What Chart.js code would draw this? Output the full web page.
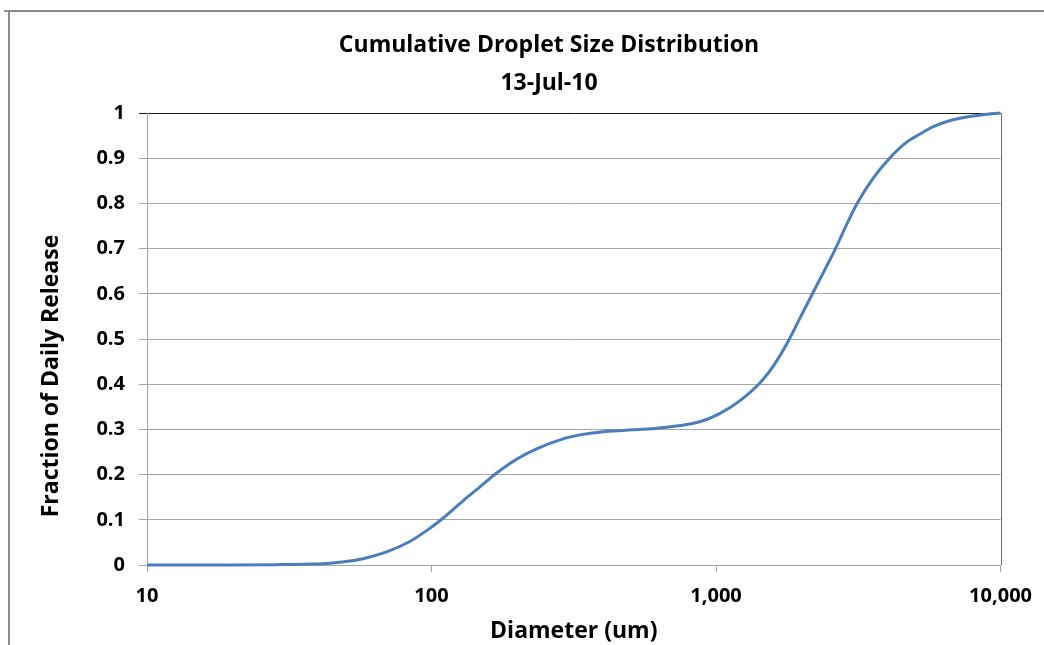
<!DOCTYPE html>
<html>
<head>
<meta charset="utf-8">
<title>Cumulative Droplet Size Distribution</title>
<script src="https://cdn.jsdelivr.net/npm/chart.js@4/dist/chart.umd.min.js"></script>
<style>
  html, body { margin: 0; padding: 0; background: #ffffff; }
  #wrap { position: relative; width: 1044px; height: 645px; }
  canvas { display: block; }
</style>
</head>
<body>
<div id="wrap"><canvas id="chart" width="1044" height="645"></canvas></div>
<script>
// Droplet diameter (um) and cumulative fraction of the daily release
const diameters = [10, 20, 30, 38, 44, 51.7, 57.5, 69.5, 83.9, 98.6, 110, 129, 148, 169, 199, 234, 290, 341, 417, 511, 670, 877, 1030, 1211, 1423, 1585, 1804, 1968, 2193, 2443, 2648, 2871, 3153, 3558, 4074, 4666, 5190, 5800, 6620, 7600, 8670, 10000];
const fractions = [0, 0, 0.001, 0.002, 0.004, 0.009, 0.014, 0.029, 0.052, 0.081, 0.104, 0.142, 0.173, 0.203, 0.234, 0.257, 0.279, 0.289, 0.296, 0.299, 0.305, 0.317, 0.335, 0.363, 0.402, 0.439, 0.498, 0.545, 0.603, 0.660, 0.704, 0.752, 0.803, 0.855, 0.900, 0.935, 0.953, 0.970, 0.983, 0.991, 0.996, 1.0];

const xTickValues = [10, 100, 1000, 10000];
const yTickValues = [0, 0.1, 0.2, 0.3, 0.4, 0.5, 0.6, 0.7, 0.8, 0.9, 1];

const titleText = 'Cumulative Droplet Size Distribution';
const subtitleText = '13-Jul-10';
const xTitleText = 'Diameter (um)';
const yTitleText = 'Fraction of Daily Release';

const FONT = '"Open Sans", "DejaVu Sans", sans-serif';
const GRID = '#a6a6a6';

// Outer frame, plot-area border and the titles
const decorations = {
  id: 'decorations',
  beforeDraw(chart) {
    const ctx = chart.ctx;
    ctx.save();
    ctx.fillStyle = '#ffffff';
    ctx.fillRect(0, 0, chart.width, chart.height);
    ctx.restore();
  },
  afterDraw(chart) {
    const ctx = chart.ctx;
    const a = chart.chartArea;
    ctx.save();
    // chart frame
    ctx.strokeStyle = '#8e8e8e';
    ctx.lineWidth = 2;
    ctx.beginPath();
    ctx.moveTo(4, 11);
    ctx.lineTo(chart.width, 11);
    ctx.moveTo(9, 11);
    ctx.lineTo(9, chart.height);
    ctx.stroke();
    // right edge of the plot area
    ctx.strokeStyle = '#6b6b6b';
    ctx.lineWidth = 1;
    ctx.beginPath();
    ctx.moveTo(Math.round(a.right) + 0.5, a.top);
    ctx.lineTo(Math.round(a.right) + 0.5, a.bottom);
    ctx.stroke();

    ctx.fillStyle = '#000000';
    ctx.textAlign = 'center';
    ctx.textBaseline = 'middle';
    ctx.font = 'bold 23px ' + FONT;
    ctx.fillText(titleText, 549, 45);
    ctx.fillText(subtitleText, 549, 83);
    ctx.fillText(xTitleText, (a.left + a.right) / 2, 631);
    ctx.translate(51, 376);
    ctx.rotate(-Math.PI / 2);
    ctx.fillText(yTitleText, 0, 0);
    ctx.restore();
  }
};

new Chart(document.getElementById('chart'), {
  type: 'line',
  data: {
    datasets: [{
      data: diameters.map((d, i) => ({ x: d, y: fractions[i] })),
      borderColor: '#4a7ebb',
      borderWidth: 3,
      pointRadius: 0,
      cubicInterpolationMode: 'monotone',
      fill: false,
      clip: false
    }]
  },
  options: {
    responsive: false,
    animation: false,
    events: [],
    layout: { padding: { top: 113, right: 43, left: 0, bottom: 0 } },
    plugins: {
      legend: { display: false },
      tooltip: { enabled: false },
      title: { display: false }
    },
    scales: {
      x: {
        type: 'logarithmic',
        min: 10,
        max: 10000,
        afterFit(scale) { scale.height = 80; },
        afterBuildTicks(scale) { scale.ticks = xTickValues.map(v => ({ value: v })); },
        grid: { drawOnChartArea: false, drawTicks: true, tickLength: 7, color: GRID },
        border: { display: true, color: GRID, width: 1 },
        ticks: {
          autoSkip: false,
          maxRotation: 0,
          padding: 12,
          color: '#000000',
          font: { family: FONT, size: 20, weight: 'bold' },
          callback: v => Number(v).toLocaleString('en-US')
        }
      },
      y: {
        min: 0,
        max: 1,
        afterFit(scale) { scale.width = 147; },
        afterBuildTicks(scale) { scale.ticks = yTickValues.map(v => ({ value: v })); },
        grid: {
          tickLength: 8,
          color: ctx => (ctx.tick && ctx.tick.value === 1 ? '#1a1a1a' : GRID),
          lineWidth: 1
        },
        border: { display: true, color: GRID, width: 1 },
        ticks: {
          padding: 14,
          color: '#000000',
          font: { family: FONT, size: 20, weight: 'bold' },
          callback: v => String(Number(Number(v).toFixed(1)))
        }
      }
    }
  },
  plugins: [decorations]
});
</script>
</body>
</html>
